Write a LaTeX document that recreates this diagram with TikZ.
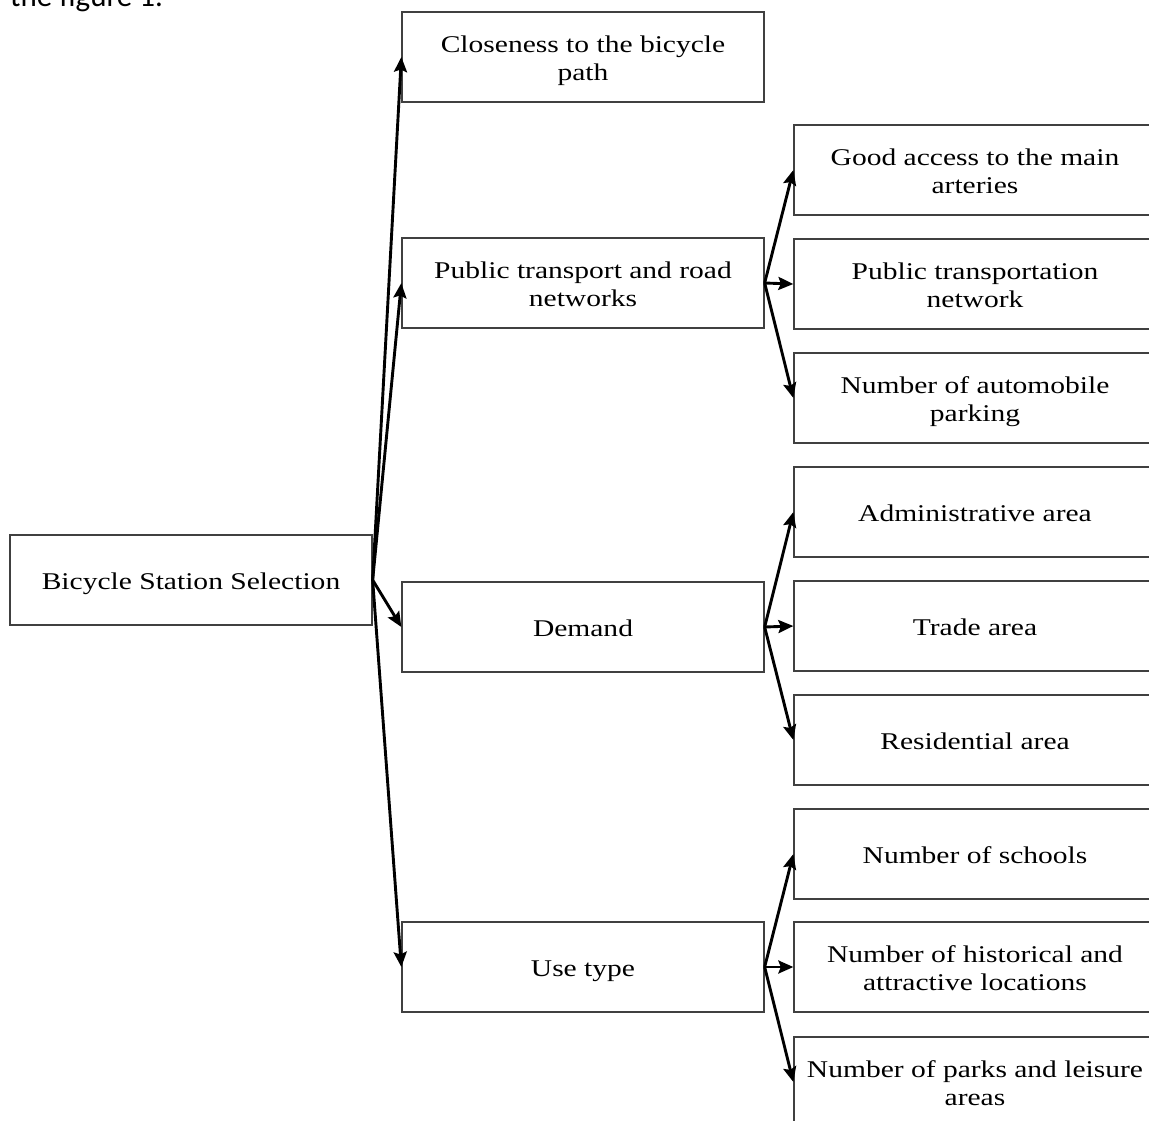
\documentclass[tikz,border=0pt]{standalone}
\usepackage{fontspec}
\setmainfont{Liberation Serif}
\newfontfamily\capfont{Carlito}
\usepackage{graphicx}
\usetikzlibrary{arrows.meta}
\newcommand\bt[1]{\raisebox{-4pt}[\height][\depth]{\scalebox{1.23}[1]{\fontsize{24}{28}\selectfont\begin{tabular}{@{}c@{}}#1\end{tabular}}}}
\tikzset{
  box/.style={draw=black!75, line width=1.3pt, minimum width=362pt, minimum height=90pt, inner sep=0pt, align=center},
  arr/.style={line width=2.9pt, -{Stealth[length=15pt,width=13pt,inset=2.5pt]}},
}
\begin{document}
\begin{tikzpicture}[x=1pt,y=-1pt]
\useasboundingbox (0,0) rectangle (1149,1120);
\clip (0,0) rectangle (1149,1120);
\fill[white] (0,0) rectangle (1149,1120);
\node[anchor=base west, inner sep=0pt, font=\capfont\fontsize{31}{36}\selectfont] (cap) at (10,6) {the figure 1.};
% root
\node[box] (root) at (191,580) {\bt{Bicycle Station Selection}};
% middle column
\node[box] (close) at (583,57) {\bt{Closeness to the bicycle\\path}};
\node[box] (pt) at (583,283) {\bt{Public transport and road\\networks}};
\node[box] (dem) at (583,627) {\bt{Demand}};
\node[box] (use) at (583,967) {\bt{Use type}};
% right column
\node[box] (r1) at (975,170) {\bt{Good access to the main\\arteries}};
\node[box] (r2) at (975,284) {\bt{Public transportation\\network}};
\node[box] (r3) at (975,398) {\bt{Number of automobile\\parking}};
\node[box] (r4) at (975,512) {\bt{Administrative area}};
\node[box] (r5) at (975,626) {\bt{Trade area}};
\node[box] (r6) at (975,740) {\bt{Residential area}};
\node[box] (r7) at (975,854) {\bt{Number of schools}};
\node[box] (r8) at (975,967) {\bt{Number of historical and\\attractive locations}};
\node[box] (r9) at (975,1082) {\bt{Number of parks and leisure\\areas}};
% connectors
\foreach \t in {close,pt,dem,use} \draw[arr] (root.east) -- (\t.west);
\foreach \t in {r1,r2,r3} \draw[arr] (pt.east) -- (\t.west);
\foreach \t in {r4,r5,r6} \draw[arr] (dem.east) -- (\t.west);
\foreach \t in {r7,r8,r9} \draw[arr] (use.east) -- (\t.west);
\end{tikzpicture}
\end{document}
